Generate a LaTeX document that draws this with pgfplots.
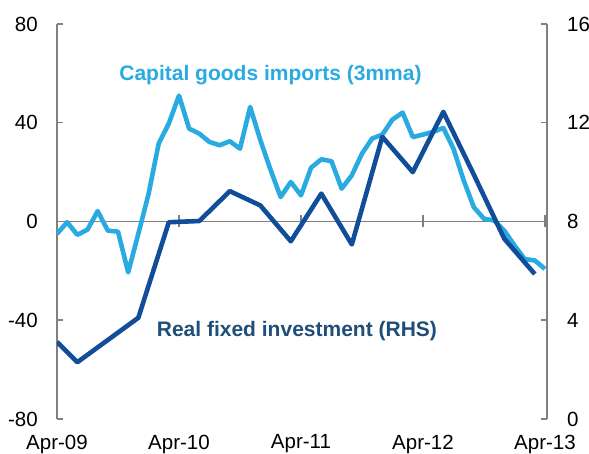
\documentclass[border=0pt]{standalone}
\usepackage{pgfplots}
\pgfplotsset{compat=1.18}
\usepackage{fontspec}
\setmainfont{Liberation Sans}
\definecolor{lblue}{RGB}{41,171,226}
\definecolor{dblue}{RGB}{17,77,153}
\definecolor{navy}{RGB}{31,78,121}
\definecolor{axgray}{RGB}{128,128,128}
\pgfplotsset{base/.style={scale only axis, width=490pt, height=395pt, xmin=0, xmax=48.2,
  tick label style={font=\fontsize{20.5}{22}\selectfont, inner sep=0pt},
  x axis line style={-}, y axis line style={-}}}
\begin{document}
\begin{tikzpicture}
% zero line with x ticks
\begin{axis}[base, ymin=-80, ymax=80, axis x line=middle, axis y line=none,
  x axis line style={-, axgray, line width=1.5pt},
  xtick={0,12,24,36,48}, xticklabels={}, tick align=center, major tick length=12pt,
  xtick style={axgray, line width=1.5pt},
  hide obscured x ticks=false, hide obscured y ticks=false]
\addplot[draw=none] coordinates {(0,0)};
\end{axis}
% left axis: capital goods imports
\begin{axis}[base, ymin=-80, ymax=80, axis y line*=left, axis x line*=bottom,
  x axis line style={draw=none}, xtick={0,12,24,36,48},
  xticklabels={Apr-09,Apr-10,Apr-11,Apr-12,Apr-13},
  xtick style={draw=none},
  xticklabel style={anchor=north, yshift=-15.5pt},
  ytick={-80,-40,0,40,80}, yticklabels={-80,-40,0,40,80},
  yticklabel style={anchor=east, xshift=-19pt},
  y axis line style={-, axgray, line width=1.5pt},
  ytick style={axgray, line width=1.5pt},
  tick align=inside, major tick length=6pt]
\addplot[lblue, line width=4.6pt, line join=round] coordinates {
(0,-5.0) (1,-0.3) (2,-5.4) (3,-3.3) (4,4.2) (5,-3.7) (6,-4.1) (7,-20.6) (8,-5) (9,11)
(10,31.5) (11,39.7) (12,51) (13,37.6) (14,35.6) (15,32.2) (16,30.9) (17,32.5) (18,29.5) (19,46.4)
(20,33) (21,21) (22,9.9) (23,16) (24,10.6) (25,21.8) (26,25.2) (27,24.4) (28,13.3) (29,18.7)
(30,27.5) (31,33.6) (32,35.2) (33,41.3) (34,44.1) (35,34.2) (36,35.2) (37,36.3) (38,37.9) (39,29.5)
(40,16.7) (41,5.8) (42,1.1) (43,0.4) (44,-3.7) (45,-9.7) (46,-15.2) (47,-15.8) (48,-19.2)
};
\node[text=lblue, font=\fontsize{21}{24}\selectfont\bfseries] at (axis cs:21.0,59.3) {Capital goods imports (3mma)};
\node[text=navy, font=\fontsize{21}{24}\selectfont\bfseries] at (axis cs:23.6,-44.5) {Real fixed investment (RHS)};
\end{axis}
% right axis: real fixed investment
\begin{axis}[base, ymin=0, ymax=16, axis y line*=right, axis x line=none,
  ytick={0,4,8,12,16}, yticklabels={0,4,8,12,16},
  yticklabel style={anchor=west, xshift=20pt},
  y axis line style={-, axgray, line width=1.5pt},
  ytick style={axgray, line width=1.5pt},
  tick align=inside, major tick length=6pt]
\addplot[dblue, line width=4.6pt, line join=round] coordinates {
(0,3.12) (2,2.3) (5,3.2) (8,4.1) (11,7.97) (14,8.02) (17,9.23) (20,8.65) (23,7.2)
(26,9.13) (29,7.07) (32,11.43) (35,10.0) (38,12.44) (41,9.9) (44,7.3) (47,5.87)
};
\end{axis}
\pgfresetboundingbox
\path[use as bounding box] (-57pt,-35pt) rectangle (532pt,419pt);
\end{tikzpicture}
\end{document}
